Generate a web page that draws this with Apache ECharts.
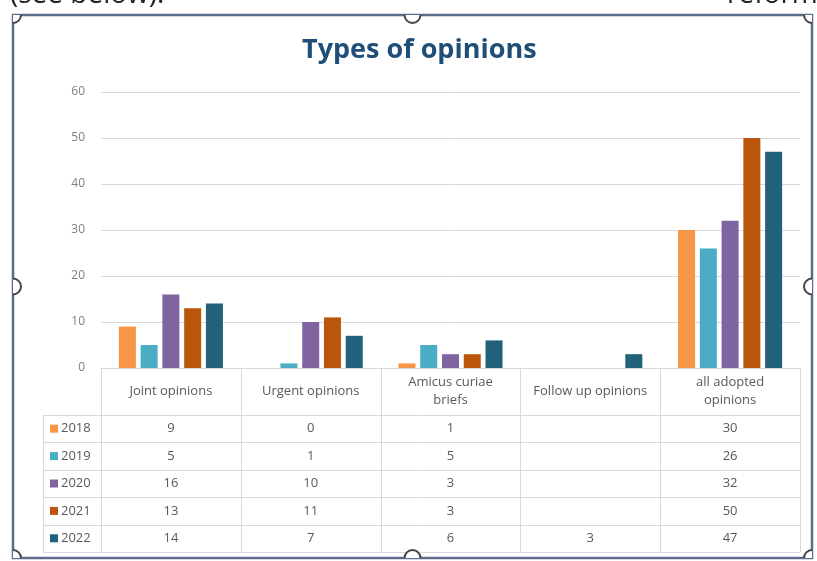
<!DOCTYPE html>
<html>
<head>
<meta charset="utf-8">
<script src="https://cdn.jsdelivr.net/npm/echarts@6/dist/echarts.min.js"></script>
<style>
  html, body { margin: 0; padding: 0; background: #fff; }
  #chart { width: 817px; height: 561px; }
</style>
</head>
<body>
<div id="chart"></div>
<script>
// data
const categories = ['Joint opinions', 'Urgent opinions', 'Amicus curiae\nbriefs', 'Follow up opinions', 'all adopted\nopinions']
const years = ['2018', '2019', '2020', '2021', '2022']
const values2018 = [9, 0, 1, null, 30]
const values2019 = [5, 1, 5, null, 26]
const values2020 = [16, 10, 3, null, 32]
const values2021 = [13, 11, 3, null, 50]
const values2022 = [14, 7, 6, 3, 47]
const yearValues = [values2018, values2019, values2020, values2021, values2022]
const colors = ['#F79646', '#4BACC6', '#8064A2', '#B9560C', '#22617A']
const yTicks = { min: 0, max: 60, interval: 10 }

const chart = echarts.init(document.getElementById('chart'))

const textColor = '#595959'
const lineColor = '#d9d9d9'
const font = '"Open Sans", sans-serif'

chart.setOption({
  animation: false,
  backgroundColor: '#fff',
  title: {
    text: 'Types of opinions',
    left: 297,
    top: 32,
    textStyle: { color: '#1F4E79', fontSize: 27, fontWeight: 'bold', fontFamily: font }
  },
  grid: { left: 101, right: 17, top: 92, bottom: 193 },
  xAxis: {
    type: 'category',
    data: categories,
    axisLine: { lineStyle: { color: lineColor } },
    axisTick: { show: false },
    axisLabel: { show: false }
  },
  yAxis: {
    type: 'value',
    min: yTicks.min,
    max: yTicks.max,
    interval: yTicks.interval,
    axisLine: { show: false },
    axisTick: { show: false },
    axisLabel: { color: '#7f7f7f', fontSize: 12, fontFamily: font, margin: 16 },
    splitLine: { lineStyle: { color: lineColor } }
  },
  series: years.map((y, i) => ({
    name: y,
    type: 'bar',
    data: yearValues[i],
    barWidth: 17,
    barGap: '28%',
    itemStyle: { color: colors[i] }
  }))
})

// data table and frame under the plot
function buildGraphics() {
  const els = []
  const x0 = chart.convertToPixel({ xAxisIndex: 0 }, 0)
  const x1 = chart.convertToPixel({ xAxisIndex: 0 }, 1)
  const band = x1 - x0
  const yZero = chart.convertToPixel({ yAxisIndex: 0 }, 0)
  const tableLeft = 43
  const headerBottom = yZero + 47
  const rowH = 27.4
  const tableRight = x0 - band / 2 + band * categories.length

  // vertical lines
  for (let i = 0; i <= categories.length; i++) {
    const x = Math.round(x0 - band / 2 + band * i) + 0.5
    els.push({ type: 'line', shape: { x1: x, y1: yZero, x2: x, y2: headerBottom + rowH * years.length }, style: { stroke: lineColor, lineWidth: 1 } })
  }
  els.push({ type: 'line', shape: { x1: tableLeft + 0.5, y1: headerBottom, x2: tableLeft + 0.5, y2: headerBottom + rowH * years.length }, style: { stroke: lineColor, lineWidth: 1 } })
  // horizontal lines
  for (let r = 0; r <= years.length; r++) {
    const y = Math.round(headerBottom + rowH * r) + 0.5
    els.push({ type: 'line', shape: { x1: tableLeft, y1: y, x2: tableRight, y2: y }, style: { stroke: lineColor, lineWidth: 1 } })
  }
  // header labels
  categories.forEach((c, i) => {
    els.push({
      type: 'text',
      x: x0 + band * i,
      y: (yZero + headerBottom) / 2,
      style: { text: c, fill: textColor, font: '13px ' + font, align: 'center', verticalAlign: 'middle', lineHeight: 18 }
    })
  })
  // rows
  years.forEach((yr, r) => {
    const cy = headerBottom + rowH * (r + 0.5)
    els.push({ type: 'rect', shape: { x: 50, y: cy - 4, width: 8, height: 8 }, style: { fill: colors[r] } })
    els.push({ type: 'text', x: 61, y: cy, style: { text: yr, fill: textColor, font: '13px ' + font, verticalAlign: 'middle' } })
    yearValues[r].forEach((v, i) => {
      if (v === null) return
      els.push({ type: 'text', x: x0 + band * i, y: cy, style: { text: String(v), fill: textColor, font: '13px ' + font, align: 'center', verticalAlign: 'middle' } })
    })
  })

  // surrounding document text and selection frame
  els.push({ type: 'text', x: 10, y: 9, style: { text: '(see below).', fill: '#222', font: '28px ' + font, verticalAlign: 'bottom' } })
  els.push({ type: 'text', x: 727, y: 9, style: { text: 'reform', fill: '#222', font: '28px ' + font, verticalAlign: 'bottom' } })
  const fl = 13, ft = 15, fr = 812, fb = 558
  els.push({ type: 'rect', shape: { x: fl, y: ft, width: fr - fl, height: fb - ft }, style: { fill: null, stroke: '#5c6c8c', lineWidth: 2.5 } })
  const mx = (fl + fr) / 2, my = (ft + fb) / 2
  const handles = [
    [mx, ft, 0, Math.PI], [mx, fb, Math.PI, 2 * Math.PI],
    [fl, my, -Math.PI / 2, Math.PI / 2], [fr, my, Math.PI / 2, 1.5 * Math.PI],
    [fl, ft, 0, Math.PI / 2], [fr, ft, Math.PI / 2, Math.PI],
    [fl, fb, -Math.PI / 2, 0], [fr, fb, Math.PI, 1.5 * Math.PI]
  ]
  handles.forEach(h => {
    els.push({ type: 'sector', shape: { cx: h[0], cy: h[1], r0: 0, r: 8, startAngle: h[2], endAngle: h[3], clockwise: true }, style: { fill: '#fff', stroke: null } })
    els.push({ type: 'arc', shape: { cx: h[0], cy: h[1], r: 8, startAngle: h[2], endAngle: h[3], clockwise: true }, style: { stroke: '#444', lineWidth: 2, fill: null } })
  })
  chart.setOption({ graphic: { elements: els } })
}
buildGraphics()
</script>
</body>
</html>
